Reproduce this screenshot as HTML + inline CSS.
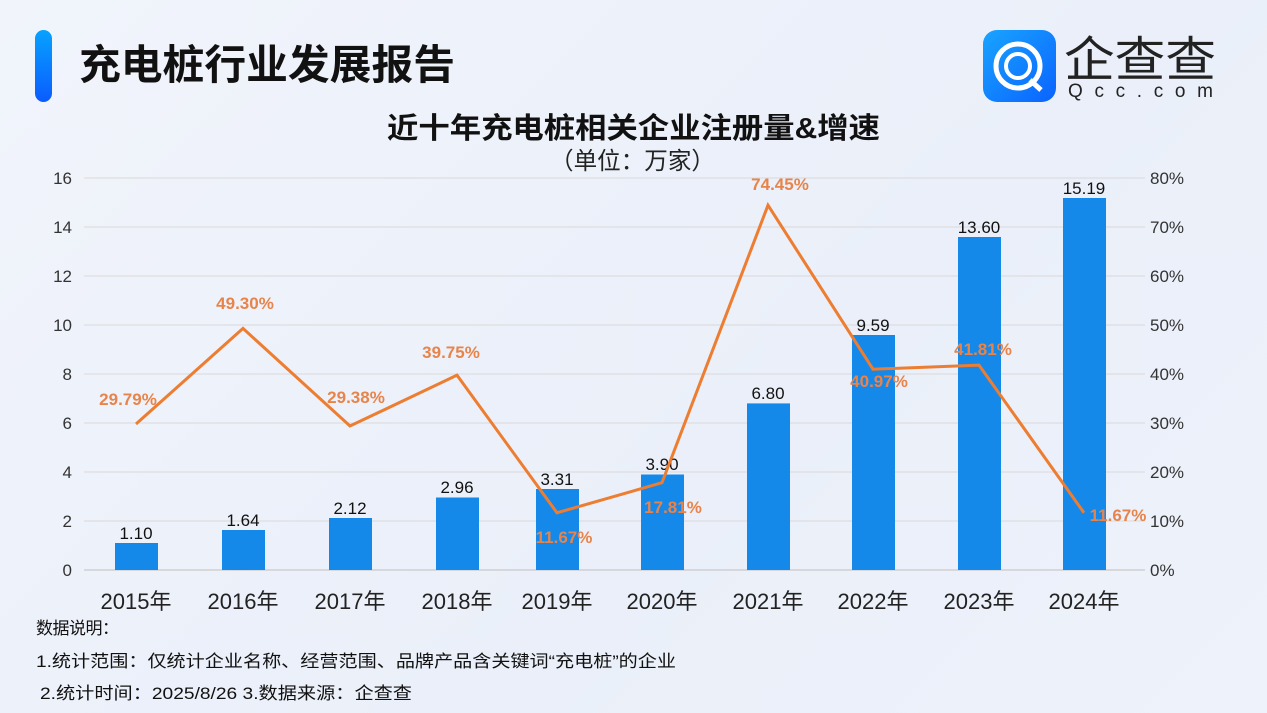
<!DOCTYPE html>
<html><head><meta charset="utf-8"><style>
body{margin:0;width:1267px;height:713px;overflow:hidden;background:linear-gradient(135deg,#f1f4fb,#eaeff9 60%,#eef2fa);font-family:"Liberation Sans","Noto Sans CJK SC",sans-serif;}
</style></head><body>
<svg width="1267" height="713" xmlns="http://www.w3.org/2000/svg" style="position:absolute;left:0;top:0;font-family:'Liberation Sans','Noto Sans CJK SC',sans-serif">
<defs>
<linearGradient id="bar" x1="0" y1="0" x2="0" y2="1"><stop offset="0" stop-color="#08a2ff"/><stop offset="1" stop-color="#0a5cff"/></linearGradient>
<linearGradient id="logo" x1="0" y1="0" x2="1" y2="1"><stop offset="0" stop-color="#19a4ff"/><stop offset="1" stop-color="#0a63ff"/></linearGradient>
</defs>
<rect x="35" y="30" width="17" height="72" rx="8.5" fill="url(#bar)"/>
<text x="79" y="79" font-size="41" font-weight="bold" fill="#111" textLength="376" lengthAdjust="spacingAndGlyphs">充电桩行业发展报告</text>
<rect x="983" y="30" width="73" height="72" rx="14" fill="url(#logo)"/>
<circle cx="1018" cy="66" r="22" fill="none" stroke="#fff" stroke-width="5"/>
<circle cx="1018" cy="66" r="12" fill="none" stroke="#fff" stroke-width="4"/>
<line x1="1030" y1="80" x2="1041" y2="90" stroke="#fff" stroke-width="5"/>
<text x="1064" y="76" font-size="48" fill="#222" textLength="152" lengthAdjust="spacingAndGlyphs">企查查</text>
<text x="1068" y="97" font-size="19" fill="#222" textLength="145">Qcc.com</text>
<text x="387" y="138" font-size="29" font-weight="bold" fill="#111" textLength="493" lengthAdjust="spacingAndGlyphs">近十年充电桩相关企业注册量&amp;增速</text>
<text x="550" y="169" font-size="24" fill="#222" textLength="165" lengthAdjust="spacingAndGlyphs">（单位：万家）</text>
<g stroke="#d9d9d9" stroke-width="1">
<line x1="84" x2="1145" y1="178" y2="178"/><line x1="84" x2="1145" y1="227" y2="227"/><line x1="84" x2="1145" y1="276" y2="276"/><line x1="84" x2="1145" y1="325" y2="325"/><line x1="84" x2="1145" y1="374" y2="374"/><line x1="84" x2="1145" y1="423" y2="423"/><line x1="84" x2="1145" y1="472" y2="472"/><line x1="84" x2="1145" y1="521" y2="521"/><line x1="84" x2="1145" y1="570" y2="570" stroke="#bfbfbf"/>
</g>
<g font-size="17" fill="#333" text-anchor="end">
<text x="72" y="184">16</text><text x="72" y="233">14</text><text x="72" y="282">12</text><text x="72" y="331">10</text><text x="72" y="380">8</text><text x="72" y="429">6</text><text x="72" y="478">4</text><text x="72" y="527">2</text><text x="72" y="576">0</text>
</g>
<g font-size="17" fill="#333" text-anchor="start">
<text x="1150" y="184">80%</text><text x="1150" y="233">70%</text><text x="1150" y="282">60%</text><text x="1150" y="331">50%</text><text x="1150" y="380">40%</text><text x="1150" y="429">30%</text><text x="1150" y="478">20%</text><text x="1150" y="527">10%</text><text x="1150" y="576">0%</text>
</g>
<g fill="#1589ea">
<rect x="115" y="543" width="43" height="27"/>
<rect x="222" y="530" width="43" height="40"/>
<rect x="329" y="518" width="43" height="52"/>
<rect x="436" y="497.5" width="43" height="72.5"/>
<rect x="536" y="489" width="43" height="81"/>
<rect x="641" y="474.5" width="43" height="95.5"/>
<rect x="747" y="403.4" width="43" height="166.6"/>
<rect x="852" y="335" width="43" height="235"/>
<rect x="958" y="237" width="43" height="333"/>
<rect x="1063" y="198" width="43" height="372"/>
</g>
<g font-size="17" fill="#111" text-anchor="middle">
<text x="136" y="539">1.10</text><text x="243" y="526">1.64</text><text x="350" y="514">2.12</text><text x="457" y="493">2.96</text><text x="557" y="485">3.31</text><text x="662" y="470">3.90</text><text x="768" y="399">6.80</text><text x="873" y="331">9.59</text><text x="979" y="233">13.60</text><text x="1084" y="194">15.19</text>
</g>
<polyline fill="none" stroke="#ed7d31" stroke-width="3" points="136,424 243,328.4 350,426 457,375.2 557,512.8 662,482.7 768,205.2 873,369.2 979,365.1 1084,512.8"/>
<g font-size="17" fill="#e8844a" text-anchor="middle" font-weight="bold">
<text x="128" y="405">29.79%</text><text x="245" y="309">49.30%</text><text x="356" y="403">29.38%</text><text x="451" y="358">39.75%</text><text x="564" y="543">11.67%</text><text x="673" y="513">17.81%</text><text x="780" y="190">74.45%</text><text x="879" y="387">40.97%</text><text x="983" y="355">41.81%</text><text x="1118" y="521">11.67%</text>
</g>
<g font-size="22" fill="#222" text-anchor="middle">
<text x="136" y="609">2015年</text><text x="243" y="609">2016年</text><text x="350" y="609">2017年</text><text x="457" y="609">2018年</text><text x="557" y="609">2019年</text><text x="662" y="609">2020年</text><text x="768" y="609">2021年</text><text x="873" y="609">2022年</text><text x="979" y="609">2023年</text><text x="1084" y="609">2024年</text>
</g>
<g font-size="17" fill="#111">
<text x="36" y="634" textLength="83">数据说明：</text>
<text x="36" y="667" textLength="640" lengthAdjust="spacingAndGlyphs">1.统计范围：仅统计企业名称、经营范围、品牌产品含关键词“充电桩”的企业</text>
<text x="40" y="699" textLength="372" lengthAdjust="spacingAndGlyphs">2.统计时间：2025/8/26  3.数据来源：企查查</text>
</g>
</svg>
</body></html>
